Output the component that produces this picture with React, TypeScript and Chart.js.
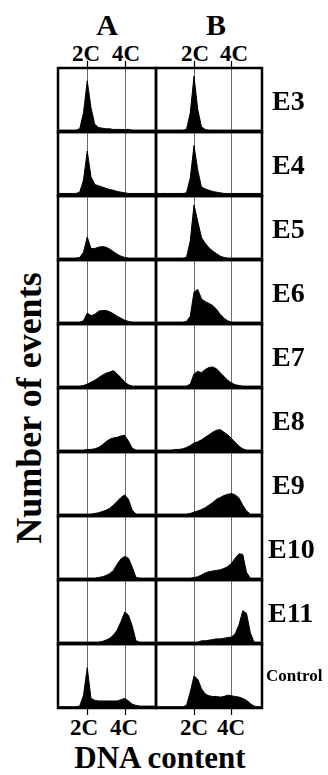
import React, { useEffect, useRef } from 'react';
import { Chart, registerables } from 'chart.js';

Chart.register(...registerables);

// DNA content channel (2C = 50, 4C = 100)
const X_CH = [0, 5, 10, 15, 20, 25, 30, 35, 40, 45, 50, 55, 60, 65, 70, 75, 80, 85, 90, 95, 100, 105, 110, 115, 120, 125, 130, 135, 140];

const COLUMN_LABELS = ['A', 'B'];
const ROW_LABELS = ['E3', 'E4', 'E5', 'E6', 'E7', 'E8', 'E9', 'E10', 'E11', 'Control'];
const TICK_LABELS = ['2C', '4C'];
const TICK_VALUES = [50, 100];

// Column A (% of panel height)
const E3_A = [3, 3, 3, 3, 3, 3, 3, 3, 5, 30, 80, 38, 12, 7, 6, 5, 5, 4, 4, 4, 4, 4, 3, 3, 3, 3, 3, 3, 3];
const E4_A = [4, 4, 4, 4, 4, 4, 4, 4, 6, 25, 70, 30, 18, 16, 14, 12, 10, 9, 7, 6, 5, 4, 4, 4, 4, 4, 4, 4, 4];
const E5_A = [3, 3, 3, 3, 3, 3, 3, 3, 4, 12, 36, 18, 18, 20, 21, 20, 17, 13, 9, 6, 4, 3, 3, 3, 3, 3, 3, 3, 3];
const E6_A = [3, 3, 3, 3, 3, 3, 3, 3, 3, 5, 17, 13, 15, 20, 21, 21, 19, 16, 12, 9, 6, 4, 3, 3, 3, 3, 3, 3, 3];
const E7_A = [3, 3, 3, 3, 3, 3, 3, 3, 3, 4, 6, 9, 12, 16, 20, 23, 25, 27, 22, 16, 9, 5, 3, 3, 3, 3, 3, 3, 3];
const E8_A = [3, 3, 3, 3, 3, 3, 3, 3, 3, 3, 4, 4, 5, 7, 11, 16, 20, 22, 23, 25, 26, 17, 6, 3, 3, 3, 3, 3, 3];
const E9_A = [3, 3, 3, 3, 3, 3, 3, 3, 3, 3, 3, 3, 4, 5, 7, 9, 12, 17, 23, 29, 33, 26, 9, 3, 3, 3, 3, 3, 3];
const E10_A = [3, 3, 3, 3, 3, 3, 3, 3, 3, 3, 3, 3, 3, 4, 5, 7, 10, 15, 25, 33, 37, 34, 20, 4, 3, 3, 3, 3, 3];
const E11_A = [3, 3, 3, 3, 3, 3, 3, 3, 3, 3, 3, 3, 3, 3, 4, 6, 9, 14, 22, 35, 50, 45, 28, 5, 3, 3, 3, 3, 3];
const CTRL_A = [2, 2, 2, 2, 2, 2, 2, 2, 3, 20, 63, 15, 12, 11, 11, 11, 11, 11, 11, 13, 15, 11, 6, 4, 3, 3, 3, 3, 3];

// Column B (% of panel height)
const E3_B = [3, 3, 3, 3, 3, 3, 3, 3, 4, 30, 87, 35, 8, 4, 3, 3, 3, 3, 3, 3, 3, 3, 3, 3, 3, 3, 3, 3, 3];
const E4_B = [4, 4, 4, 4, 4, 4, 4, 4, 5, 28, 79, 40, 14, 11, 9, 7, 6, 5, 4, 4, 4, 4, 4, 4, 4, 4, 4, 4, 4];
const E5_B = [3, 3, 3, 3, 3, 3, 3, 3, 4, 30, 86, 60, 35, 26, 19, 14, 10, 6, 4, 3, 3, 3, 3, 3, 3, 3, 3, 3, 3];
const E6_B = [3, 3, 3, 3, 3, 3, 3, 3, 4, 12, 50, 54, 39, 35, 32, 29, 23, 15, 9, 5, 3, 3, 3, 3, 3, 3, 3, 3, 3];
const E7_B = [3, 3, 3, 3, 3, 3, 3, 3, 3, 6, 22, 26, 24, 29, 32, 33, 30, 24, 18, 12, 8, 5, 4, 3, 3, 3, 3, 3, 3];
const E8_B = [3, 3, 3, 3, 3, 4, 4, 5, 7, 10, 14, 16, 19, 23, 27, 31, 34, 35, 31, 27, 21, 15, 9, 5, 3, 3, 3, 3, 3];
const E9_B = [3, 3, 3, 3, 3, 3, 3, 3, 3, 4, 6, 8, 10, 13, 17, 21, 26, 29, 32, 34, 35, 33, 28, 17, 8, 3, 3, 3, 3];
const E10_B = [3, 3, 3, 3, 3, 3, 3, 3, 3, 3, 4, 5, 8, 11, 13, 14, 15, 16, 18, 21, 26, 34, 41, 40, 12, 3, 3, 3, 3];
const E11_B = [3, 3, 3, 3, 3, 3, 3, 3, 3, 3, 3, 3, 5, 5, 6, 7, 8, 8, 9, 10, 11, 16, 30, 52, 48, 18, 3, 3, 3];
const CTRL_B = [2, 2, 2, 2, 2, 2, 2, 2, 4, 25, 50, 45, 30, 22, 19, 18, 18, 17, 18, 20, 19, 18, 17, 15, 12, 7, 3, 2, 2];

const SERIES_A = [E3_A, E4_A, E5_A, E6_A, E7_A, E8_A, E9_A, E10_A, E11_A, CTRL_A];
const SERIES_B = [E3_B, E4_B, E5_B, E6_B, E7_B, E8_B, E9_B, E10_B, E11_B, CTRL_B];

// Layout
const COL_GEOM = [
  { left: 58, right: 156, min: 11, max: 141.67 },
  { left: 156, right: 262, min: -0.67, max: 140.67 },
];
const GRID_TOP = 68;
const ROW_H = 64;
const PAD = 3;
const TICK_LEN = 6;
const FONT = '"Liberation Serif", "Times New Roman", serif';

function Panel({ values, col, row }: { values: number[]; col: number; row: number }) {
  const ref = useRef<HTMLCanvasElement | null>(null);
  const g = COL_GEOM[col];
  const top = GRID_TOP + row * ROW_H;
  const padTop = row === 0 ? TICK_LEN + 1 : PAD;
  const padBottom = row === ROW_LABELS.length - 1 ? TICK_LEN + 1 : PAD;
  const w = g.right - g.left + 2 * PAD;
  const h = ROW_H + padTop + padBottom;

  useEffect(() => {
    const tickTop = row === 0;
    const tickBottom = row === ROW_LABELS.length - 1;
    const framePlugin = {
      id: 'panelFrame',
      beforeDatasetsDraw(chart: any) {
        const { ctx, chartArea: a, scales } = chart;
        ctx.save();
        ctx.strokeStyle = '#6a6a6a';
        ctx.lineWidth = 1;
        for (const v of TICK_VALUES) {
          const px = Math.round(scales.x.getPixelForValue(v)) + 0.5;
          ctx.beginPath();
          ctx.moveTo(px, a.top);
          ctx.lineTo(px, a.bottom);
          ctx.stroke();
        }
        ctx.restore();
      },
      afterDatasetsDraw(chart: any) {
        const { ctx, chartArea: a, scales } = chart;
        ctx.save();
        ctx.strokeStyle = '#000';
        ctx.lineWidth = 2.5;
        ctx.strokeRect(a.left, a.top, a.right - a.left, a.bottom - a.top);
        ctx.lineWidth = 1.2;
        for (const v of TICK_VALUES) {
          const px = Math.round(scales.x.getPixelForValue(v)) + 0.5;
          if (tickTop) {
            ctx.beginPath();
            ctx.moveTo(px, 0);
            ctx.lineTo(px, a.top);
            ctx.stroke();
          }
          if (tickBottom) {
            ctx.beginPath();
            ctx.moveTo(px, a.bottom);
            ctx.lineTo(px, chart.height);
            ctx.stroke();
          }
        }
        ctx.restore();
      },
    };
    const chart = new Chart(ref.current as HTMLCanvasElement, {
      type: 'line',
      data: {
        datasets: [
          {
            data: X_CH.map((x, i) => ({ x, y: values[i] })),
            borderColor: '#000',
            backgroundColor: '#000',
            borderWidth: 1,
            pointRadius: 0,
            fill: 'origin',
            tension: 0,
          },
        ],
      },
      options: {
        animation: false,
        responsive: false,
        maintainAspectRatio: false,
        events: [],
        layout: { padding: { left: PAD, right: PAD, top: padTop, bottom: padBottom } },
        plugins: { legend: { display: false }, tooltip: { enabled: false } },
        scales: {
          x: { type: 'linear', display: false, min: g.min, max: g.max },
          y: { type: 'linear', display: false, min: 0, max: 100 },
        },
      },
      plugins: [framePlugin],
    } as any);
    return () => chart.destroy();
  }, [values, col, row]);

  return (
    <canvas
      ref={ref}
      width={w}
      height={h}
      style={{ position: 'absolute', left: g.left - PAD, top: top - padTop, width: w, height: h }}
    />
  );
}

function Label({ text, left, top, size, center, style }: any) {
  return (
    <div
      style={{
        position: 'absolute',
        left,
        top,
        fontFamily: FONT,
        fontWeight: 'bold',
        fontSize: size,
        lineHeight: 1,
        whiteSpace: 'nowrap',
        color: '#000',
        transform: center ? 'translateX(-50%)' : undefined,
        ...style,
      }}
    >
      {text}
    </div>
  );
}

export default function App() {
  const tickCentersTop = [[86, 126], [195, 234]];
  const tickCentersBottom = [[84, 124], [194, 231]];
  return (
    <div style={{ position: 'absolute', left: 0, top: 0, width: 328, height: 775, background: '#fff', overflow: 'hidden' }}>
      {COLUMN_LABELS.map((t, c) => (
        <Label key={t} text={t} left={c === 0 ? 107 : 216} top={10} size={30} center />
      ))}
      {tickCentersTop.map((cs, c) =>
        cs.map((cx, k) => <Label key={`t${c}${k}`} text={TICK_LABELS[k]} left={cx} top={42} size={23} center />)
      )}
      {tickCentersBottom.map((cs, c) =>
        cs.map((cx, k) => <Label key={`b${c}${k}`} text={TICK_LABELS[k]} left={cx} top={716} size={23} center />)
      )}
      {SERIES_A.map((s, r) => (
        <Panel key={`a${r}`} values={s} col={0} row={r} />
      ))}
      {SERIES_B.map((s, r) => (
        <Panel key={`b${r}`} values={s} col={1} row={r} />
      ))}
      {ROW_LABELS.map((t, r) =>
        t === 'Control' ? (
          <Label key={t} text={t} left={266} top={GRID_TOP + r * ROW_H + 23} size={17} />
        ) : (
          <Label key={t} text={t} left={t.length > 2 ? 268 : 272} top={GRID_TOP + r * ROW_H + 19} size={28} />
        )
      )}
      <Label
        text="Number of events"
        left={29}
        top={408}
        size={36}
        style={{ transform: 'translate(-50%, -50%) rotate(-90deg)' }}
      />
      <Label text="DNA content" left={160} top={742} size={31} center />
    </div>
  );
}
